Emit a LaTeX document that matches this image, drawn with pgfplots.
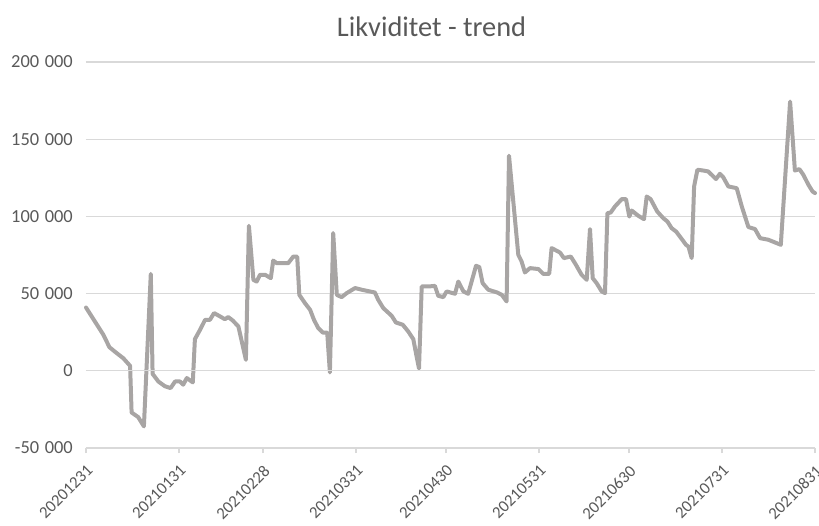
\documentclass[border=0pt]{standalone}
\usepackage{fontspec}
\setmainfont{Carlito}
\usepackage{pgfplots}
\pgfplotsset{compat=1.18}
\definecolor{gridcol}{RGB}{217,217,217}
\definecolor{txtcol}{RGB}{89,89,89}
\definecolor{linecol}{RGB}{168,165,164}
\newcommand{\ts}{\hspace{0.3em}}
\begin{document}
\begin{tikzpicture}
\begin{axis}[
  name=ax, anchor=south west, at={(0,0)},
  scale only axis, width=729bp, height=386bp,
  xmin=0, xmax=243, ymin=-50000, ymax=200000,
  clip=false, scaled y ticks=false, scaled x ticks=false,
  axis line style={draw=none},
  ymajorgrids, grid style={gridcol, line width=1.3bp},
  ytick={-50000,0,50000,100000,150000,200000},
  yticklabels={-50\ts000,0,50\ts000,100\ts000,150\ts000,200\ts000},
  xtick={0,31,59,90,120,151,181,212,243},
  xticklabels={20201231,20210131,20210228,20210331,20210430,20210531,20210630,20210731,20210831},
  major tick length=0pt,
  yticklabel style={font=\fontsize{18.5}{21}\selectfont, text=txtcol, inner sep=0pt, anchor=east, xshift=-13bp},
  xticklabel style={font=\fontsize{16.8}{19}\selectfont, text=txtcol, inner sep=0pt, yshift=-20bp, xshift=4bp, rotate=45, anchor=east},
]
\addplot[linecol, line width=4bp, line join=round, line cap=round] coordinates {
(0,41000) (5.8,23300) (7.8,15300) (10.2,11500) (12.4,8200) (14.7,3200)
(15.2,-27000) (17.4,-30000) (19.3,-36000) (21.6,62800) (22.2,-2000)
(24.1,-6900) (26.3,-10000) (28.2,-11200) (29.7,-6900) (31.3,-6900)
(32.4,-9000) (33.6,-4700) (35.6,-7500) (36.3,20500) (38,26500)
(39.7,33000) (41.3,33000) (42.7,37400) (44.7,35200) (46.3,33400)
(47.4,34800) (48.9,32600) (50.8,28700) (53.3,7100) (54.3,93900)
(55.8,58900) (56.9,57800) (58,62200) (59.7,62200) (61.6,60000)
(62.4,71400) (63.6,69700) (67.4,69700) (69.1,74000) (70.4,74000)
(71.1,49200) (73,43800) (74.7,39500) (76,33000) (77.4,27700)
(78.9,24800) (80.4,24800) (81.3,-1100) (82.4,89200) (83.6,49200)
(85.2,47700) (86.9,50300) (89.7,53600) (91.9,52500) (96.3,50700)
(97.4,46000) (99.1,40600) (101.9,35600) (103.3,31300) (105.6,29800)
(107.4,25500) (109.1,20500) (110.2,9300) (111,1500) (111.9,54600)
(114.1,54600) (116.3,55000) (117.4,48600) (119.1,47700) (120.2,51400)
(123,49900) (124.1,57800) (125.8,51400) (127.4,49900) (130,68000)
(131.1,67200) (132.2,56800) (134.1,52500) (137.1,50700) (138.6,49200)
(140.2,44900) (141,139300) (144.1,75100) (145.2,70800) (146.3,63700)
(148,66500) (150.8,65900) (152.4,62800) (154.4,62800) (155.2,79500)
(158,76600) (159.3,73000) (161.6,74000) (163.3,68700) (165.2,62200)
(166.9,58900) (168,91800) (168.9,60000) (170.2,56800) (171.9,51400)
(173,50300) (173.8,102100) (174.9,102500) (176.3,106400) (178.6,111200)
(180,111200) (181.1,99900) (181.9,103800) (184.1,100400) (186,98200)
(186.9,112900) (188.2,111200) (190.4,103200) (192.4,98900) (193.8,96700)
(195.2,92400) (196.7,90200) (198.6,85300) (200,81600) (200.8,80500)
(201.9,73000) (202.7,119400) (203.8,130200) (205.8,129700) (207.4,129100)
(210,124200) (211.3,127600) (212.4,125400) (214.1,119400) (216.9,118300)
(218.6,106400) (220.8,93100) (223,91800) (224.7,85900) (227.4,84900)
(229.7,83100) (231.6,81600) (234.7,174400) (236.3,129700) (237.8,130600)
(239.1,127000) (240.8,120500) (242.2,116100) (243,115100)
};
\end{axis}
\begin{axis}[
  anchor=south west, at={(0,0)},
  scale only axis, width=729bp, height=386bp,
  xmin=0, xmax=243, ymin=-50000, ymax=200000,
  scaled y ticks=false,
  axis x line=middle, axis y line=none,
  x axis line style={-, draw=gridcol, line width=1.3bp},
  xtick={0,31,59,90,120,151,181,212,243},
  xticklabels={}, ytick=\empty,
  xtick pos=bottom, tick align=outside,
  major tick length=5bp,
  every tick/.style={gridcol, line width=1.3bp},
]
\addplot[draw=none] coordinates {(0,0)};
\end{axis}
\node[text=txtcol, font=\fontsize{28.5}{33}\selectfont] at (345.5bp,421bp) {Likviditet - trend};
\pgfresetboundingbox
\path (-86bp,-78bp) rectangle (733bp,448bp);
\end{tikzpicture}
\end{document}
